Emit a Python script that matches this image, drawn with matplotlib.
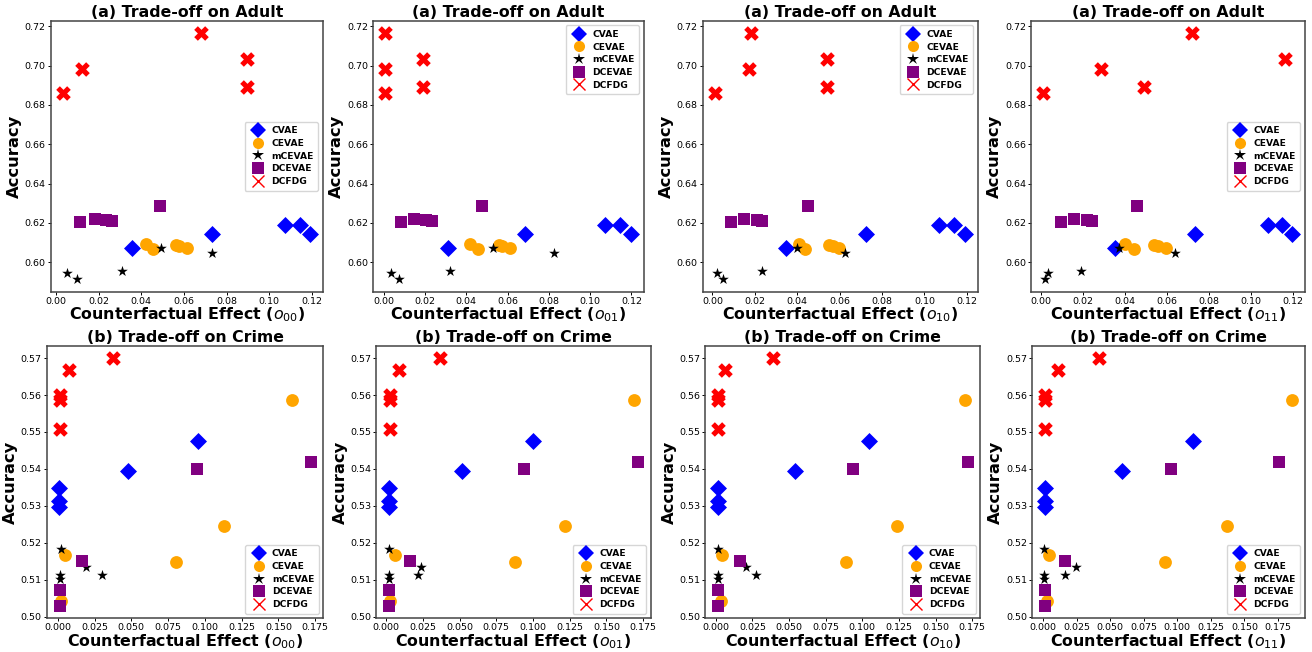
import matplotlib
matplotlib.use("Agg")
import matplotlib.pyplot as plt
from matplotlib.lines import Line2D
from matplotlib.ticker import MultipleLocator

methods = ["CVAE", "CEVAE", "mCEVAE", "DCEVAE", "DCFDG"]

# accuracy (same for every effect type)
adult_y = {
    "CVAE": [0.607, 0.6145, 0.619, 0.619, 0.6145],
    "CEVAE": [0.6093, 0.6068, 0.6085, 0.608, 0.6071],
    "mCEVAE": [0.5947, 0.5912, 0.5953, 0.6073, 0.6044],
    "DCEVAE": [0.6203, 0.6217, 0.6212, 0.6207, 0.6283],
    "DCFDG": [0.6861, 0.6983, 0.7166, 0.7034, 0.689],
}
crime_y = {
    "CVAE": [0.5348, 0.5312, 0.5297, 0.5394, 0.5475],
    "CEVAE": [0.5586, 0.5245, 0.5147, 0.5167, 0.5041],
    "mCEVAE": [0.5184, 0.5114, 0.5103, 0.5135, 0.5112],
    "DCEVAE": [0.5073, 0.5029, 0.515, 0.540, 0.5418],
    "DCFDG": [0.5599, 0.5586, 0.5507, 0.5668, 0.570],
}

# counterfactual effects, adult
adult_o00 = {
    "CVAE": [0.0355, 0.0733, 0.1075, 0.1145, 0.1192],
    "CEVAE": [0.0424, 0.0454, 0.0562, 0.0579, 0.0614],
    "mCEVAE": [0.0054, 0.0099, 0.0312, 0.0494, 0.073],
    "DCEVAE": [0.0115, 0.0182, 0.0236, 0.0263, 0.049],
    "DCFDG": [0.0034, 0.0124, 0.0678, 0.0895, 0.0895],
}
adult_o01 = {
    "CVAE": [0.031, 0.0687, 0.107, 0.1146, 0.12],
    "CEVAE": [0.0419, 0.0459, 0.056, 0.0572, 0.061],
    "mCEVAE": [0.0036, 0.0076, 0.032, 0.053, 0.0823],
    "DCEVAE": [0.0084, 0.0149, 0.0205, 0.0233, 0.0474],
    "DCFDG": [0.0008, 0.0008, 0.0008, 0.0189, 0.0189],
}
adult_o10 = {
    "CVAE": [0.0346, 0.0725, 0.107, 0.114, 0.1192],
    "CEVAE": [0.0409, 0.0437, 0.055, 0.0568, 0.0598],
    "mCEVAE": [0.002, 0.0049, 0.0233, 0.0399, 0.0626],
    "DCEVAE": [0.0088, 0.0149, 0.0209, 0.0233, 0.0453],
    "DCFDG": [0.0013, 0.0171, 0.0181, 0.054, 0.054],
}
adult_o11 = {
    "CVAE": [0.0351, 0.0734, 0.108, 0.1146, 0.1197],
    "CEVAE": [0.0402, 0.0444, 0.054, 0.0559, 0.0595],
    "mCEVAE": [0.0031, 0.002, 0.0189, 0.0372, 0.0638],
    "DCEVAE": [0.0094, 0.0159, 0.0217, 0.0244, 0.0457],
    "DCFDG": [0.0011, 0.0283, 0.0718, 0.1162, 0.0491],
}

# counterfactual effects, crime
crime_o00 = {
    "CVAE": [0.001, 0.001, 0.001, 0.0477, 0.0955],
    "CEVAE": [0.1595, 0.1127, 0.0802, 0.0052, 0.0025],
    "mCEVAE": [0.0023, 0.0018, 0.0018, 0.0195, 0.0302],
    "DCEVAE": [0.0018, 0.0018, 0.0166, 0.095, 0.172],
    "DCFDG": [0.0018, 0.0018, 0.0018, 0.0075, 0.0377],
}
crime_o01 = {
    "CVAE": [0.0018, 0.0018, 0.0018, 0.0516, 0.0998],
    "CEVAE": [0.1689, 0.1218, 0.088, 0.0057, 0.0027],
    "mCEVAE": [0.0018, 0.0018, 0.0018, 0.0234, 0.0216],
    "DCEVAE": [0.0018, 0.0018, 0.0161, 0.0939, 0.1716],
    "DCFDG": [0.0023, 0.0023, 0.0023, 0.0086, 0.037],
}
crime_o10 = {
    "CVAE": [0.0018, 0.0018, 0.0018, 0.054, 0.1048],
    "CEVAE": [0.1703, 0.1235, 0.0889, 0.0046, 0.0034],
    "mCEVAE": [0.0014, 0.0014, 0.0014, 0.0205, 0.0278],
    "DCEVAE": [0.0018, 0.0018, 0.0164, 0.0939, 0.172],
    "DCFDG": [0.0018, 0.0018, 0.0018, 0.0064, 0.0392],
}
crime_o11 = {
    "CVAE": [0.0012, 0.0012, 0.0012, 0.059, 0.1118],
    "CEVAE": [0.1856, 0.137, 0.0907, 0.0044, 0.003],
    "mCEVAE": [0.001, 0.001, 0.001, 0.0246, 0.0165],
    "DCEVAE": [0.0012, 0.0012, 0.016, 0.0951, 0.1758],
    "DCFDG": [0.0017, 0.0017, 0.0012, 0.011, 0.0415],
}

colors = {"CVAE": "blue", "CEVAE": "orange", "mCEVAE": "black",
          "DCEVAE": "purple", "DCFDG": "red"}
markers = {"CVAE": "D", "CEVAE": "o", "mCEVAE": "*", "DCEVAE": "s", "DCFDG": "X"}
sizes = {"CVAE": 75, "CEVAE": 85, "mCEVAE": 65, "DCEVAE": 75, "DCFDG": 110}
leg_markers = {"CVAE": "D", "CEVAE": "o", "mCEVAE": "*", "DCEVAE": "s", "DCFDG": "x"}

# (data x, data y, title, subscript, legend loc, axes rect in px: left, right, top, bottom)
panels = [
    (adult_o00, adult_y, "(a) Trade-off on Adult", "00", "center right", (50.7, 322.7, 20.7, 291.7)),
    (adult_o01, adult_y, "(a) Trade-off on Adult", "01", "upper right", (373, 643.7, 20.7, 291.7)),
    (adult_o10, adult_y, "(a) Trade-off on Adult", "10", "upper right", (702.7, 977.7, 20.7, 291.7)),
    (adult_o11, adult_y, "(a) Trade-off on Adult", "11", "center right", (1031, 1304.7, 20.7, 291.7)),
    (crime_o00, crime_y, "(b) Trade-off on Crime", "00", "lower right", (46.7, 323.3, 345.7, 618.3)),
    (crime_o01, crime_y, "(b) Trade-off on Crime", "01", "lower right", (376.3, 650.7, 345.7, 618.3)),
    (crime_o10, crime_y, "(b) Trade-off on Crime", "10", "lower right", (705.3, 980.3, 345.7, 618.3)),
    (crime_o11, crime_y, "(b) Trade-off on Crime", "11", "lower right", (1032, 1304.7, 345.7, 618.3)),
]

W, H = 1312, 652
fig = plt.figure(figsize=(W / 100, H / 100), dpi=100)

for i, (xd, yd, title, sub, loc, r) in enumerate(panels):
    ax = fig.add_axes([r[0] / W, (H - r[3]) / H, (r[1] - r[0]) / W, (r[3] - r[2]) / H])
    for m in methods:
        ax.scatter(xd[m], yd[m], c=colors[m], marker=markers[m], s=sizes[m],
                   linewidths=0)
    ax.set_title(title, fontsize=11.3, fontweight="bold", pad=3)
    ax.set_xlabel("Counterfactual Effect ($o_{" + sub + "}$)", fontsize=11.4,
                  fontweight="bold", labelpad=0)
    ax.set_ylabel("Accuracy", fontsize=11.8, fontweight="bold", labelpad=2)
    if i < 4:
        ax.xaxis.set_major_locator(MultipleLocator(0.02))
        ax.yaxis.set_major_locator(MultipleLocator(0.02))
    else:
        ax.xaxis.set_major_locator(MultipleLocator(0.025))
        ax.yaxis.set_major_locator(MultipleLocator(0.01))
    ax.xaxis.set_major_formatter(plt.FormatStrFormatter("%.2f" if i < 4 else "%.3f"))
    ax.yaxis.set_major_formatter(plt.FormatStrFormatter("%.2f"))
    ax.tick_params(labelsize=6.8, length=2, width=0.7, pad=1.5)
    for sp in ax.spines.values():
        sp.set_linewidth(1.1)
        sp.set_color("#444444")

    handles = []
    for m in methods:
        handles.append(Line2D([], [], linestyle="none", marker=leg_markers[m],
                              color=colors[m], markersize=8 if m != "mCEVAE" else 9,
                              markeredgewidth=1.0 if m == "DCFDG" else 0))
    ax.legend(handles, methods, loc=loc, prop={"weight": "bold", "size": 6.6},
              handletextpad=0.4, labelspacing=0.4, borderpad=0.5)

fig.savefig("out.png", dpi=100)
